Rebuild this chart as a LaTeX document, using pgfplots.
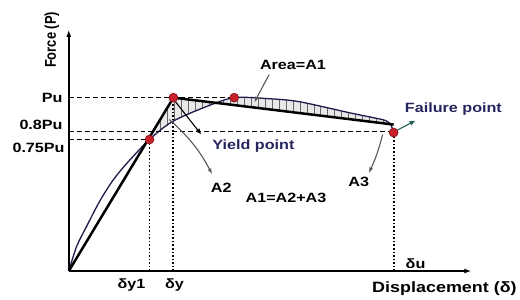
\documentclass[border=0pt]{standalone}
\usepackage{fontspec}
\setmainfont{Liberation Sans}
\usepackage{graphicx}
\usepackage{pgfplots}
\pgfplotsset{compat=1.18}
\usepgfplotslibrary{fillbetween}
\usetikzlibrary{patterns.meta,arrows.meta}
\definecolor{navy}{HTML}{26265E}
\definecolor{curve}{HTML}{1C1C4A}
\definecolor{dotred}{HTML}{C8202A}
\definecolor{arrgreen}{HTML}{1F5F55}
\newcommand{\lab}[2][13.5pt]{\scalebox{1.2}[1]{\fontsize{#1}{#1}\selectfont\bfseries #2}}
\begin{document}
\begin{tikzpicture}
\begin{axis}[
  scale only axis, width=404pt, height=242pt,
  xmin=0, xmax=404, ymin=0, ymax=242,
  axis lines=left,
  axis line style={line width=1.6pt, -{Latex[length=7pt,width=5pt]}},
  xtick=\empty, ytick=\empty,
  clip=false,
]
\path (axis cs:-69,-28) rectangle (axis cs:451,272);
% curves
\addplot[name path=thin, draw=none, forget plot] coordinates {(0,0) (8,25) (18,45) (31,70) (45,92) (60,110) (81,132) (104,150) (138,165) (166,174) (200,173) (231,170) (281,159) (310,153) (318,151) (323,147) (326,139)};
\addplot[name path=thick, draw=none, forget plot] coordinates {(0,0) (105,174) (326,147)};
\addplot[fill=gray!18, draw=none] fill between[of=thin and thick, soft clip={domain=81:326}];
\addplot[pattern={Lines[angle=90,distance=7pt,line width=0.8pt]}, pattern color=gray!80!black, draw=none] fill between[of=thin and thick, soft clip={domain=90:322}];
\addplot[color=curve, line width=1.3pt, smooth, tension=0.5] coordinates {(0,0) (8,25) (18,45) (31,70) (45,92) (60,110) (81,132) (104,150) (138,165) (166,174) (200,173) (231,170) (281,159) (310,153) (318,151) (323,147) (326,139)};
\addplot[black, line width=2.5pt] coordinates {(0,0) (105,174) (326,147)};
% dashed horizontal lines
\addplot[black, line width=1.5pt, dash pattern=on 5pt off 3pt] coordinates {(0,174) (166,174)};
\addplot[black, line width=1.5pt, dash pattern=on 5pt off 3pt] coordinates {(0,140) (326,140)};
\addplot[black, line width=1.5pt, dash pattern=on 5pt off 3pt] coordinates {(0,132) (81,132)};
% dotted vertical lines
\addplot[black, line width=1.9pt, dash pattern=on 1.6pt off 2pt] coordinates {(81,0) (81,132)};
\addplot[black, line width=1.9pt, dash pattern=on 1.6pt off 2pt] coordinates {(105,0) (105,174)};
\addplot[black, line width=1.9pt, dash pattern=on 1.6pt off 2pt] coordinates {(326,0) (326,139)};
% arrows
\draw[black, line width=1.1pt, -{Latex[length=6pt,width=5pt]}] (axis cs:107,170) -- (axis cs:133,137);
\draw[gray!70!black, line width=1.1pt, -{Latex[length=6pt,width=4pt]}] (axis cs:101,152) to[bend left=10] (axis cs:144,97);
\draw[gray!70!black, line width=1.1pt, -{Latex[length=6pt,width=4pt]}] (axis cs:315,137) to[bend left=5] (axis cs:301,98);
\draw[gray!70!black, line width=1.1pt, -{Latex[length=6pt,width=4pt]}] (axis cs:201,197) -- (axis cs:186,169);
\draw[arrgreen, line width=1.1pt, -{Latex[length=6pt,width=5pt]}] (axis cs:327,140) -- (axis cs:348,151);
% points
\addplot[only marks, mark=*, mark size=4.5pt, mark options={fill=dotred, draw=dotred!65!black, line width=0.6pt}] coordinates {(81,132) (105,174) (166,174) (326,139)};
% labels
\node[rotate=90] at (axis cs:-17,232) {\scalebox{1}[1.2]{\fontsize{13pt}{13pt}\selectfont\bfseries Force (P)}};
\node[anchor=east, inner sep=0pt] at (axis cs:-6,174) {\lab{Pu}};
\node[anchor=east, inner sep=0pt] at (axis cs:-6,147) {\lab{0.8Pu}};
\node[anchor=east, inner sep=0pt] at (axis cs:-4,124) {\lab{0.75Pu}};
\node at (axis cs:63,-14) {\lab{δy1}};
\node at (axis cs:106,-14) {\lab{δy}};
\node at (axis cs:348,7) {\lab{δu}};
\node at (axis cs:377,-18) {\lab[15pt]{Displacement (δ)}};
\node[anchor=west, inner sep=0pt, text=navy] at (axis cs:144,125) {\lab{Yield point}};
\node at (axis cs:153,84) {\lab{A2}};
\node at (axis cs:218,73) {\lab{A1=A2+A3}};
\node at (axis cs:291,89) {\lab{A3}};
\node at (axis cs:225,207) {\lab{Area=A1}};
\node[text=navy] at (axis cs:386,163) {\lab{Failure point}};
\end{axis}
\end{tikzpicture}
\end{document}
